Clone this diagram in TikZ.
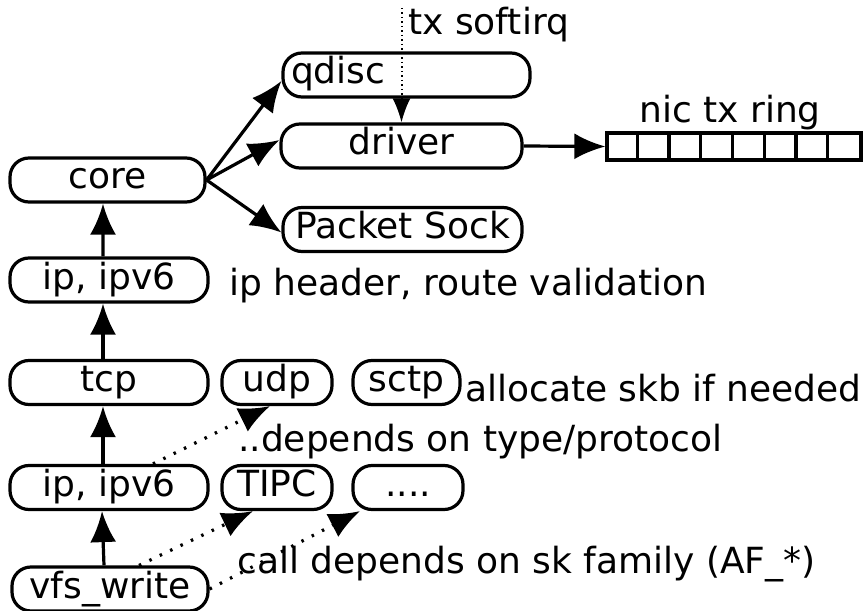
\documentclass[tikz,border=0pt]{standalone}
\usepackage{fontspec}
\setmainfont{DejaVu Sans}
\usetikzlibrary{arrows.meta,calc}
\begin{document}
\begin{tikzpicture}[x=1bp,y=-1bp,
  every node/.style={font=\fontsize{36bp}{43bp}\selectfont},
  box/.style={draw,line width=3.2bp,rounded corners=19bp,minimum height=44bp,inner sep=0pt,text height=26bp,text depth=8bp},
  lbl/.style={anchor=base west,inner sep=0pt},
  arr/.style={line width=3.2bp,-{Latex[length=31bp,width=26bp]}},
  darr/.style={arr,dash pattern=on 2.5bp off 9bp},
  softarr/.style={line width=2bp,dash pattern=on 1.5bp off 3bp,-{Latex[length=24bp,width=18bp]}}]
\useasboundingbox (0,0) rectangle (863,611);

% boxes
\node[box,minimum width=195bp] (core) at (107.5,180) {core};
\node[box,minimum width=247bp,text width=231bp,align=left] (qdisc) at (406.5,75) {qdisc};
\node[box,minimum width=241bp] (driver) at (401.5,146) {driver};
\node[box,minimum width=239bp] (psock) at (402.5,229.5) {Packet Sock};
\node[box,minimum width=198bp] (ipA) at (109,280) {ip, ipv6};
\node[box,minimum width=198bp] (tcp) at (109,382.5) {tcp};
\node[box,minimum width=110bp] (udp) at (277,382.5) {udp};
\node[box,minimum width=107bp] (sctp) at (406.5,382.5) {sctp};
\node[box,minimum width=198bp] (ipB) at (109,487.5) {ip, ipv6};
\node[box,minimum width=110bp] (tipc) at (277,487.5) {TIPC};
\node[box,minimum width=110bp] (dots) at (408,487.5) {....};
\node[box,minimum width=196bp] (vfs) at (110,589) {vfs\_write};

% nic tx ring
\node[draw,line width=3.2bp,minimum width=254bp,minimum height=27bp,inner sep=0pt] (ring) at (734,146.5) {};
\foreach \i in {1,...,7}
  \draw[line width=3.2bp] ($(ring.north west)+(\i*31.75,0)$) -- ($(ring.south west)+(\i*31.75,0)$);
\node[lbl,anchor=base] (ringlbl) at ($(ring.north)+(-4,-9)$) {nic tx ring};

% labels
\node[lbl] (l1) at (408,35) {tx softirq};
\node[lbl] (l2) at (229,295) {ip header, route validation};
\node[lbl] (l3) at (465,401) {allocate skb if needed};
\node[lbl] (l4) at (238,451) {..depends on type/protocol};
\node[lbl] (l5) at (237,573) {call depends on sk family (AF\_*)};

% vertical arrows
\draw[arr] ([xshift=-6bp]vfs.north) -- ([xshift=-7bp]ipB.south);
\draw[arr] ([xshift=-6bp]ipB.north) -- ([xshift=-6bp]tcp.south);
\draw[arr] ([xshift=-6bp]tcp.north) -- ([xshift=-6bp]ipA.south);
\draw[arr] ([xshift=-6bp]ipA.north) -- ([xshift=-4.5bp]core.south);

% core fan
\draw[arr] (core.east) -- ([yshift=-6bp]qdisc.west);
\draw[arr] (core.east) -- ([yshift=6bp]driver.west);
\draw[arr] (core.east) -- ([yshift=-3bp]psock.west);

% driver to ring
\draw[arr] (driver.east) -- (ring.west);

% tx softirq
\coordinate (txs) at (401.5,8);
\draw[softarr] (txs) -- (driver.north);

% dotted calls
\draw[darr] ([xshift=44bp]ipB.north) -- ([xshift=-7bp]udp.south);
\draw[darr] ([xshift=29bp]vfs.north) -- ([xshift=-24bp]tipc.south);
\draw[darr] (vfs.east) -- ([xshift=-48bp]dots.south);
\end{tikzpicture}
\end{document}
